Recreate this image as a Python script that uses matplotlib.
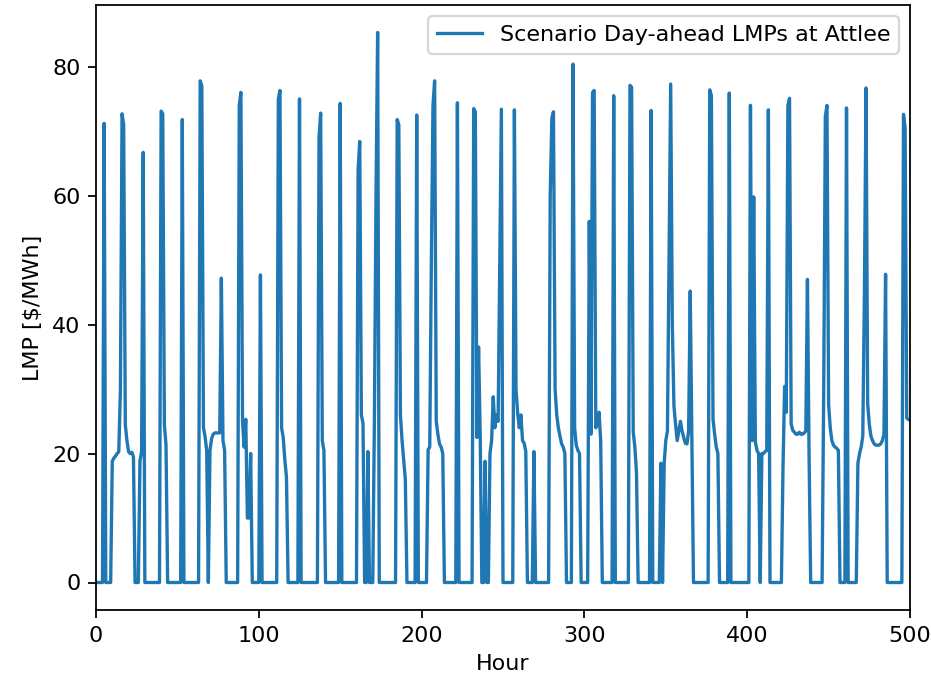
import matplotlib
matplotlib.use("Agg")
import matplotlib.pyplot as plt
import numpy as np

# Hourly scenario day-ahead LMPs at Attlee ($/MWh), hours 0..499
lmp = [
    0, 0, 0, 0, 0, 71.2, 0, 0, 0, 0, 18.8, 19.3, 19.6, 20.0, 20.3, 30, 72.7, 71, 24.5, 22, 20.3, 20, 20.2, 19.5, 0,
    0, 0, 18.8, 20.3, 66.7, 0, 0, 0, 0, 0, 0, 0, 0, 0, 0, 73.1, 72.7, 24.5, 21.3, 0, 0, 0, 0, 0, 0,
    0, 0, 0, 71.8, 0, 0, 0, 0, 0, 0, 0, 0, 0, 0, 77.8, 77, 24, 22.6, 20.5, 0, 20.5, 22.3, 23, 23.2, 23.2,
    23.2, 23.2, 47.2, 22, 20.5, 0, 0, 0, 0, 0, 0, 0, 0, 74, 76, 25, 21, 25.3, 10, 10, 20, 0, 0, 0, 0,
    0, 47.7, 0, 0, 0, 0, 0, 0, 0, 0, 0, 0, 75, 76.3, 24, 22.5, 19, 16.3, 0, 0, 0, 0, 0, 0, 0,
    75, 0, 0, 0, 0, 0, 0, 0, 0, 0, 0, 0, 69, 72.8, 22, 20.5, 0, 0, 0, 0, 0, 0, 0, 0, 0,
    74.3, 0, 0, 0, 0, 0, 0, 0, 0, 0, 0, 64, 68.4, 26, 24.7, 0, 0, 20.3, 0, 0, 0, 25, 60, 85.3, 0,
    0, 0, 0, 0, 0, 0, 0, 0, 0, 0, 71.8, 71, 26, 22, 19, 16, 0, 0, 0, 0, 0, 0, 72.5, 0, 0,
    0, 0, 0, 0, 20.6, 21, 50, 74, 77.8, 25, 23, 21.5, 21, 20, 0, 0, 0, 0, 0, 0, 0, 0, 74.4, 0, 0,
    0, 0, 0, 0, 0, 0, 0, 73.5, 73, 22.5, 36.5, 22.8, 0, 0, 18.8, 0, 0, 20, 22, 28.8, 24, 26, 25, 50, 73.4,
    0, 0, 0, 0, 0, 0, 0, 73.3, 30, 26.3, 24, 26, 22, 21.6, 20.3, 0, 0, 0, 0, 20.3, 0, 0, 0, 0, 0,
    0, 0, 0, 0, 60, 72, 73, 30, 26, 24, 22.7, 21.5, 21, 20, 0, 0, 0, 0, 80.4, 24, 21.3, 20.5, 20, 0, 0,
    0, 0, 0, 56, 23, 76, 76.3, 24, 24.7, 26.4, 22, 0, 0, 0, 0, 0, 0, 0, 75.5, 0, 0, 0, 0, 0, 0,
    0, 0, 0, 77.1, 76.8, 23.3, 21, 17, 0, 0, 0, 0, 0, 0, 0, 0, 73.2, 0, 0, 0, 0, 0, 18.5, 0, 18.5,
    22, 23.5, 50, 77.3, 40, 27.4, 24.5, 22, 23.5, 25, 23.5, 22.5, 21.6, 21.5, 23.4, 45.2, 22, 0, 0, 0, 0, 0, 0, 0, 0,
    0, 0, 76.4, 75.5, 25.3, 23, 21, 20, 0, 0, 0, 0, 0, 0, 75.9, 0, 0, 0, 0, 0, 0, 0, 0, 0, 0,
    0, 0, 74, 22, 59.8, 21.8, 20.5, 20, 0, 20, 20, 20.3, 20.5, 73.3, 0, 0, 0, 0, 0, 0, 0, 0, 18, 30.4, 26.4,
    74, 75.1, 24.6, 23.6, 23.3, 23, 23, 23.3, 23, 23, 23.2, 23.5, 47, 19.7, 0, 0, 0, 0, 0, 0, 0, 0, 30, 72.3, 74,
    27.7, 24, 22, 21.3, 21, 20.8, 20.5, 0, 0, 0, 0, 73.6, 0, 0, 0, 0, 0, 0, 18.5, 20, 21, 22.7, 45, 76.7, 27.7,
    24.5, 22.7, 22, 21.5, 21.3, 21.3, 21.3, 21.5, 22, 23, 47.8, 0, 0, 0, 0, 0, 0, 0, 0, 0, 0, 72.6, 70.5, 25.5, 25.3,
]
hours = np.arange(len(lmp))

series_label = "Scenario Day-ahead LMPs at Attlee"
x_label = "Hour"
y_label = "LMP [$/MWh]"

DPI = 160
fig = plt.figure(figsize=(931 / DPI, 678 / DPI), dpi=DPI)
ax = fig.add_axes([96 / 931, 1 - 610 / 678, (910 - 96) / 931, (610 - 5) / 678])
ax.plot(hours, lmp, color="tab:blue", linewidth=1.5, label=series_label)
ax.set_xlim(0, 500)
ax.set_xlabel(x_label)
ax.set_ylabel(y_label)
ax.legend(loc="upper right")
fig.savefig("out.png", dpi=DPI)
